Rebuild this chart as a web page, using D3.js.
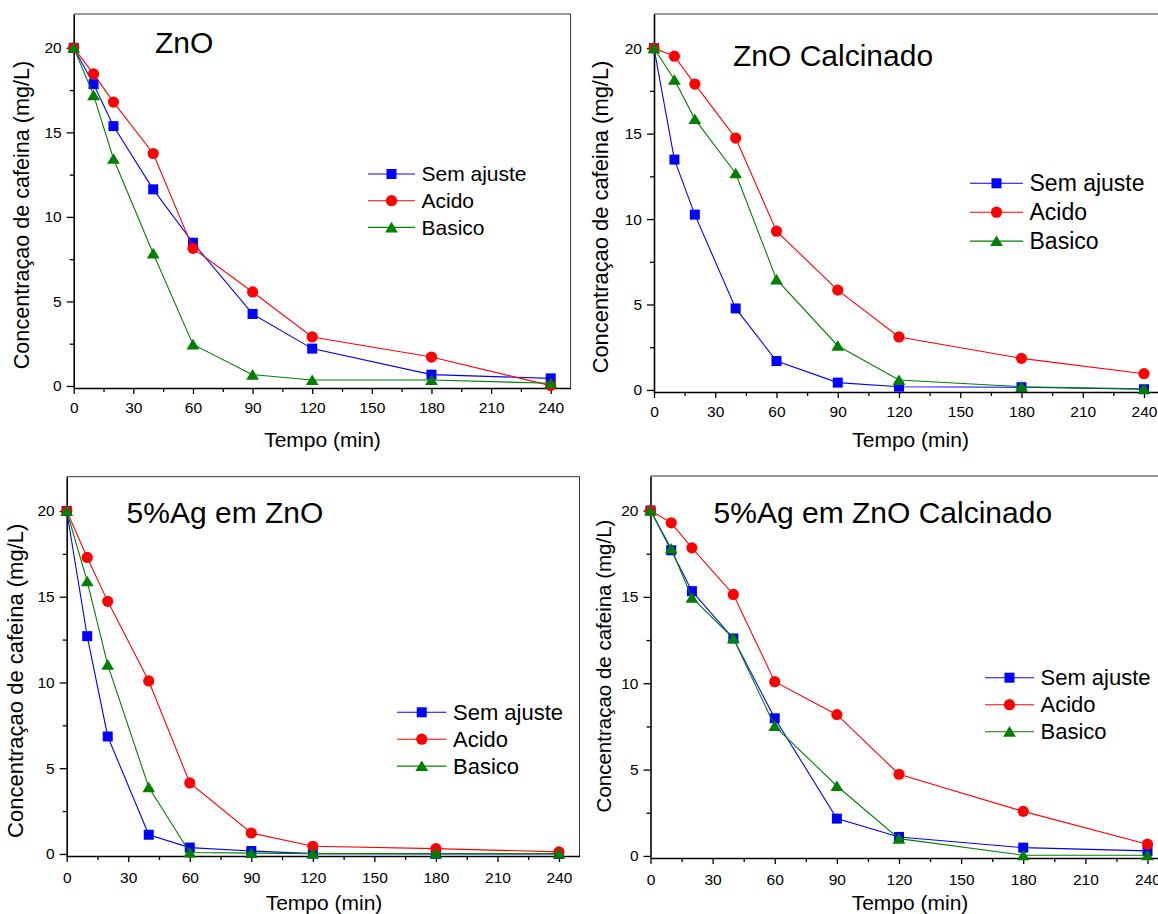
<!DOCTYPE html>
<html>
<head>
<meta charset="utf-8">
<script src="https://cdn.jsdelivr.net/npm/d3@7"></script>
<style>
  html, body { margin: 0; padding: 0; background: #fff; }
  svg { display: block; font-family: "Liberation Sans", Arial, sans-serif; }
</style>
</head>
<body>
<svg id="chart" width="1158" height="914"></svg>
<script>
// ── Data ────────────────────────────────────────────────────
const TIME      = [0, 10, 20, 40, 60, 90, 120, 180, 240];
const SERIES    = ['Sem ajuste', 'Acido', 'Basico'];
const X_TICKS   = [0, 30, 60, 90, 120, 150, 180, 210, 240];
const X_MINOR   = [15, 45, 75, 105, 135, 165, 195, 225];
const Y_TICKS   = [0, 5, 10, 15, 20];
const Y_MINOR   = [2.5, 7.5, 12.5, 17.5];
const TITLES    = ['ZnO', 'ZnO Calcinado', '5%Ag em ZnO', '5%Ag em ZnO Calcinado'];
const X_LABEL   = 'Tempo (min)';
const Y_LABEL   = 'Concentraçao de cafeina (mg/L)';

const znoSem      = [20, 17.85, 15.37, 11.63, 8.47, 4.26, 2.21, 0.67, 0.45];
const znoAcido    = [20, 18.46, 16.79, 13.75, 8.14, 5.56, 2.90, 1.71, 0.02];
const znoBasico   = [20, 17.2, 13.44, 7.84, 2.46, 0.67, 0.35, 0.35, 0.16];

const calcSem     = [20, 13.48, 10.26, 4.77, 1.69, 0.43, 0.19, 0.16, 0.04];
const calcAcido   = [20, 19.53, 17.9, 14.74, 9.29, 5.84, 3.10, 1.85, 0.95];
const calcBasico  = [20, 18.15, 15.85, 12.68, 6.47, 2.59, 0.58, 0.19, 0.06];

const agSem       = [20, 12.70, 6.85, 1.12, 0.37, 0.17, 0.02, 0.0, 0.0];
const agAcido     = [20, 17.29, 14.73, 10.09, 4.14, 1.22, 0.45, 0.31, 0.12];
const agBasico    = [20, 15.9, 11.03, 3.89, 0.08, 0.05, 0.02, 0.02, 0.02];

const agCalcSem    = [20, 17.70, 15.33, 12.59, 7.97, 2.16, 1.10, 0.48, 0.29];
const agCalcAcido  = [20, 19.29, 17.84, 15.14, 10.09, 8.18, 4.73, 2.58, 0.68];
const agCalcBasico = [20, 17.8, 14.95, 12.6, 7.52, 4.05, 1.0, 0.04, 0.04];

const PANEL_DATA = [
  [znoSem, znoAcido, znoBasico],
  [calcSem, calcAcido, calcBasico],
  [agSem, agAcido, agBasico],
  [agCalcSem, agCalcAcido, agCalcBasico],
];

// ── Layout (pixels) ─────────────────────────────────────────
const COLORS = ['#0000ff', '#ff0000', '#008000'];
const X_DOMAIN = [0, 250];
const Y_DOMAIN = [-0.12, 22];

const LAYOUT = [
  { x: 73.7,  y: 14,    w: 496.9, h: 374,   tickPad: 8,
    title: [155, 53.3],   legend: [368, 174, 26.7, 47, 21],
    xl: [322.5, 447], yl: [28.7, 215, 21.6] },
  { x: 654,   y: 14,    w: 510.4, h: 378,   tickPad: 8,
    title: [733, 65.7],   legend: [970, 183.3, 28.9, 53, 23],
    xl: [910.6, 447], yl: [608, 217, 21.9] },
  { x: 66.7,  y: 476.7, w: 512.8, h: 379.3, tickPad: 10,
    title: [126.6, 523.3], legend: [397, 712.3, 26.9, 49.5, 22],
    xl: [324, 910], yl: [23.1, 680.8, 22] },
  { x: 650.5, y: 476,   w: 517.7, h: 382,   tickPad: 10,
    title: [713.6, 522.7], legend: [985, 677.7, 27, 49, 22],
    xl: [910, 910], yl: [610.8, 666, 20.5] },
];

// ── Marker shapes ───────────────────────────────────────────
function marker(sel, kind, color) {
  if (kind === 0) {
    sel.append('rect').attr('x', -5).attr('y', -5).attr('width', 10).attr('height', 10)
      .attr('fill', color);
  } else if (kind === 1) {
    sel.append('circle').attr('r', 5.6).attr('fill', color);
  } else {
    sel.append('path').attr('d', 'M0,-5.6L6.4,5L-6.4,5Z').attr('fill', color);
  }
}

const svg = d3.select('#chart');

LAYOUT.forEach((L, pi) => {
  const x = d3.scaleLinear().domain(X_DOMAIN).range([L.x, L.x + L.w]);
  const y = d3.scaleLinear().domain(Y_DOMAIN).range([L.y + L.h, L.y]);
  const g = svg.append('g');

  // frame (top + right)
  g.append('path')
    .attr('d', `M${L.x},${L.y}H${L.x + L.w}V${L.y + L.h}`)
    .attr('fill', 'none').attr('stroke', '#333').attr('stroke-width', 1);

  // x axis
  const xAxis = g.append('g').attr('transform', `translate(0,${L.y + L.h})`)
    .call(d3.axisBottom(x).tickValues(X_TICKS).tickSize(6).tickPadding(L.tickPad).tickSizeOuter(0));
  g.append('g').attr('transform', `translate(0,${L.y + L.h})`)
    .call(d3.axisBottom(x).tickValues(X_MINOR).tickSize(4).tickFormat('').tickSizeOuter(0))
    .select('.domain').remove();

  // y axis
  const yAxis = g.append('g').attr('transform', `translate(${L.x},0)`)
    .call(d3.axisLeft(y).tickValues(Y_TICKS).tickSize(7).tickPadding(5).tickSizeOuter(0));
  g.append('g').attr('transform', `translate(${L.x},0)`)
    .call(d3.axisLeft(y).tickValues(Y_MINOR).tickSize(4).tickFormat('').tickSizeOuter(0))
    .select('.domain').remove();

  [xAxis, yAxis].forEach(a => {
    a.select('.domain').attr('stroke', '#000').attr('stroke-width', 1.6);
    a.selectAll('.tick line').attr('stroke', '#000').attr('stroke-width', 1.3);
    a.selectAll('.tick text').attr('fill', '#000').style('font-size', '15.5px')
      .style('font-family', '"Liberation Sans", Arial, sans-serif');
  });
  g.selectAll('.tick line').attr('stroke', '#000').attr('stroke-width', 1.3);

  // series
  const line = d3.line().x((d, i) => x(TIME[i])).y(d => y(d));
  PANEL_DATA[pi].forEach((vals, si) => {
    g.append('path').datum(vals).attr('d', line)
      .attr('fill', 'none').attr('stroke', COLORS[si]).attr('stroke-width', 1.1);
    g.selectAll(null).data(vals).join('g')
      .attr('transform', (d, i) => `translate(${x(TIME[i])},${y(d)})`)
      .each(function () { marker(d3.select(this), si, COLORS[si]); });
  });

  // panel title
  g.append('text').attr('x', L.title[0]).attr('y', L.title[1])
    .style('font-size', '30px').text(TITLES[pi]);

  // legend
  const [lx, ly, step, len, fs] = L.legend;
  SERIES.forEach((name, si) => {
    const row = g.append('g').attr('transform', `translate(${lx},${ly + si * step})`);
    row.append('line').attr('x1', 0).attr('x2', len)
      .attr('stroke', COLORS[si]).attr('stroke-width', 1.1);
    marker(row.append('g').attr('transform', `translate(${len / 2},0)`), si, COLORS[si]);
    row.append('text').attr('x', len + 6.5).attr('dy', '0.35em')
      .style('font-size', fs + 'px').text(name);
  });

  // axis titles
  g.append('text').attr('x', L.xl[0]).attr('y', L.xl[1])
    .attr('text-anchor', 'middle').style('font-size', '21px').text(X_LABEL);
  g.append('text')
    .attr('transform', `translate(${L.yl[0]},${L.yl[1]}) rotate(-90)`)
    .attr('text-anchor', 'middle').style('font-size', L.yl[2] + 'px').text(Y_LABEL);
});
</script>
</body>
</html>
